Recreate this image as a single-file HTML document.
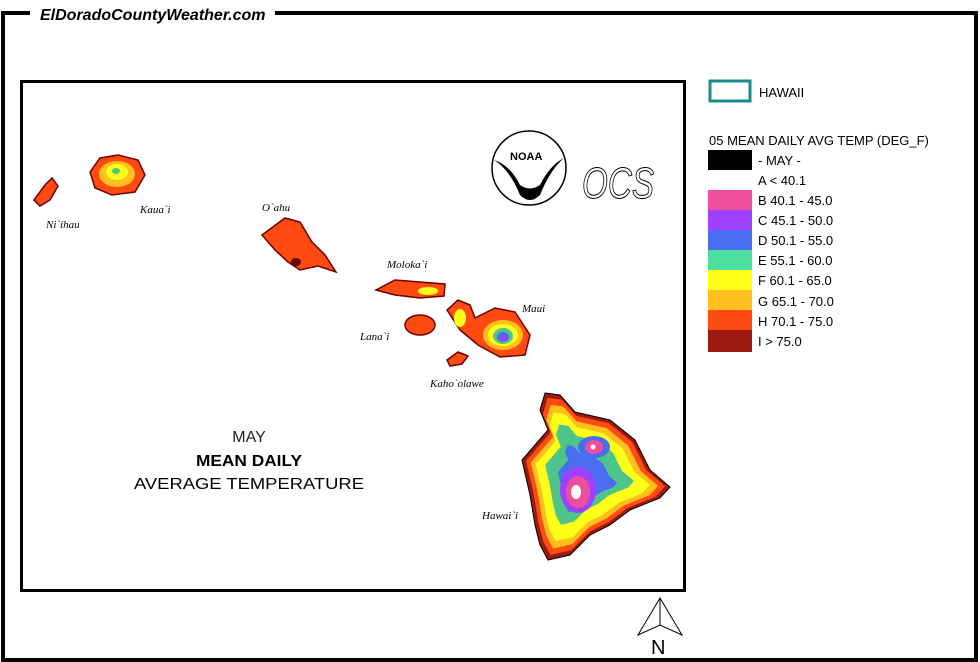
<!DOCTYPE html>
<html><head><meta charset="utf-8"><style>
html,body{margin:0;padding:0;background:#fff;width:980px;height:662px;overflow:hidden}
svg{display:block}
text{font-family:"Liberation Sans",sans-serif}
.i{font-family:"Liberation Serif",serif;font-style:italic;font-size:11px}
</style></head><body>
<svg width="980" height="662" viewBox="0 0 980 662">
<defs>
<polygon id="hi" points="545,393 560,395 575,412 610,420 635,440 650,470 670,487 660,498 630,510 610,525 590,535 570,555 548,560 540,545 535,525 530,495 522,460 535,445 548,430 540,410"/>
<polygon id="oa" points="262,235 285,218 300,222 312,242 325,255 336,272 318,266 300,270 288,262 275,250"/>
<polygon id="ka" points="90,172 100,158 118,155 138,160 145,175 135,192 112,195 95,188"/>
<polygon id="mo" points="376,290 395,280 420,282 445,284 444,296 420,298 395,295"/>
<polygon id="ma" points="447,310 458,300 470,305 475,318 495,308 515,312 530,335 525,355 500,357 478,345 460,330"/>
</defs>
<g stroke="#000" stroke-width="4" fill="none">
<polyline points="30,13 3,13 3,660 976,660 976,13 275,13"/>
</g>
<text x="40" y="20" font-size="16" font-style="italic" font-weight="bold">ElDoradoCountyWeather.com</text>
<rect x="21.5" y="81.5" width="663" height="509" fill="#fff" stroke="#000" stroke-width="3"/>

<g>
<use href="#hi" fill="#9b1b10" stroke="#000" stroke-width="1"/>
<use href="#hi" fill="#ff4a12" transform="translate(590,475) scale(0.94) translate(-590,-475)"/>
<use href="#hi" fill="#ffbf1c" transform="translate(585,478) scale(0.86) translate(-585,-478)"/>
<use href="#hi" fill="#ffff1a" transform="translate(582,478) scale(0.77) translate(-582,-478)"/>
<use href="#hi" fill="#4ec48a" transform="translate(580,472) scale(0.6) translate(-580,-472)"/>
<use href="#hi" fill="#4a6cf0" transform="translate(582,480) scale(0.4) translate(-582,-480)"/>
<ellipse cx="578" cy="490" rx="18" ry="23" fill="#a040ff"/>
<ellipse cx="578" cy="492" rx="12" ry="16" fill="#ee4f9c"/>
<ellipse cx="576" cy="492" rx="5" ry="7" fill="#fff"/>
<ellipse cx="594" cy="447" rx="16" ry="11" fill="#4a6cf0"/>
<ellipse cx="594" cy="447" rx="9" ry="7" fill="#ee4f9c"/>
<circle cx="593" cy="447" r="2.5" fill="#fff"/>
</g>
<use href="#oa" fill="#ff4a12" stroke="#6a0000" stroke-width="1.5"/>
<ellipse cx="296" cy="262" rx="5" ry="4" fill="#6a0000"/>
<use href="#ka" fill="#ff4a12" stroke="#6a0000" stroke-width="1.5"/>
<ellipse cx="117" cy="174" rx="18" ry="13" fill="#ffbf1c"/>
<ellipse cx="117" cy="172" rx="11" ry="8" fill="#ffff1a"/>
<ellipse cx="116" cy="171" rx="4" ry="3" fill="#4ec48a"/>
<polygon points="34,200 45,185 52,178 58,186 50,200 40,206" fill="#ff4a12" stroke="#6a0000" stroke-width="1.5"/>
<use href="#mo" fill="#ff4a12" stroke="#6a0000" stroke-width="1.5"/>
<ellipse cx="428" cy="291" rx="10" ry="4" fill="#ffff1a"/>
<ellipse cx="420" cy="325" rx="15" ry="10" fill="#ff4a12" stroke="#6a0000" stroke-width="1.5"/>
<polygon points="447,360 458,352 468,356 462,364 450,366" fill="#ff4a12" stroke="#6a0000" stroke-width="1.5"/>
<use href="#ma" fill="#ff4a12" stroke="#6a0000" stroke-width="1.5"/>
<ellipse cx="460" cy="318" rx="6" ry="9" fill="#ffff1a"/>
<ellipse cx="503" cy="335" rx="20" ry="15" fill="#ffbf1c"/>
<ellipse cx="503" cy="335" rx="15" ry="11" fill="#ffff1a"/>
<ellipse cx="503" cy="336" rx="10" ry="8" fill="#4ec48a"/>
<ellipse cx="503" cy="337" rx="6" ry="5" fill="#4a6cf0"/>
<ellipse cx="503" cy="338" rx="3" ry="3" fill="#a040ff"/>

<text class="i" x="46" y="228">Ni`ihau</text>
<text class="i" x="140" y="213">Kaua`i</text>
<text class="i" x="262" y="211">O`ahu</text>
<text class="i" x="387" y="268">Moloka`i</text>
<text class="i" x="360" y="340">Lana`i</text>
<text class="i" x="522" y="312">Maui</text>
<text class="i" x="430" y="387">Kaho`olawe</text>
<text class="i" x="482" y="519">Hawai`i</text>

<circle cx="529" cy="168" r="37" fill="#fff" stroke="#000" stroke-width="1.5"/>
<path d="M494,160 Q510,170 520,195 Q530,205 540,195 Q550,170 564,158 Q550,165 540,185 Q530,192 520,185 Q510,165 494,160Z" fill="#000"/>
<text x="510" y="160" font-size="11" font-weight="bold">NOAA</text>
<text x="582" y="198" font-size="44" font-style="italic" fill="#fff" stroke="#000" stroke-width="1" font-family="Liberation Serif,serif" textLength="72" lengthAdjust="spacingAndGlyphs">OCS</text>

<text x="249" y="442" font-size="16" text-anchor="middle" fill="#222">MAY</text>
<text x="249" y="466" font-size="16" font-weight="bold" text-anchor="middle" textLength="106" lengthAdjust="spacingAndGlyphs">MEAN DAILY</text>
<text x="249" y="489" font-size="16" text-anchor="middle" textLength="230" lengthAdjust="spacingAndGlyphs">AVERAGE TEMPERATURE</text>

<rect x="710" y="81" width="40" height="20" fill="#fff" stroke="#1b8a8a" stroke-width="3"/>
<text x="759" y="97" font-size="13">HAWAII</text>
<text x="709" y="145" font-size="13">05 MEAN DAILY AVG TEMP (DEG_F)</text>
<g font-size="13">
<rect x="708" y="150" width="44" height="20" fill="#000"/><text x="758" y="165">- MAY -</text>
<text x="758" y="185">A &lt; 40.1</text>
<rect x="708" y="190" width="44" height="20" fill="#ee4f9c"/><text x="758" y="205">B 40.1 - 45.0</text>
<rect x="708" y="210" width="44" height="20" fill="#a040ff"/><text x="758" y="225">C 45.1 - 50.0</text>
<rect x="708" y="230" width="44" height="20" fill="#4a6cf0"/><text x="758" y="245">D 50.1 - 55.0</text>
<rect x="708" y="250" width="44" height="20" fill="#4ee0a0"/><text x="758" y="265">E 55.1 - 60.0</text>
<rect x="708" y="270" width="44" height="20" fill="#ffff1a"/><text x="758" y="285">F 60.1 - 65.0</text>
<rect x="708" y="290" width="44" height="20" fill="#ffbf1c"/><text x="758" y="306">G 65.1 - 70.0</text>
<rect x="708" y="310" width="44" height="20" fill="#ff4a12"/><text x="758" y="326">H 70.1 - 75.0</text>
<rect x="708" y="330" width="44" height="22" fill="#9b1b10"/><text x="758" y="346">I &gt; 75.0</text>
</g>
<polygon points="660,598 638,635 660,625 682,635" fill="#fff" stroke="#000" stroke-width="1"/>
<line x1="660" y1="598" x2="660" y2="625" stroke="#000"/>
<text x="651" y="654" font-size="20">N</text>
</svg>
</body></html>
